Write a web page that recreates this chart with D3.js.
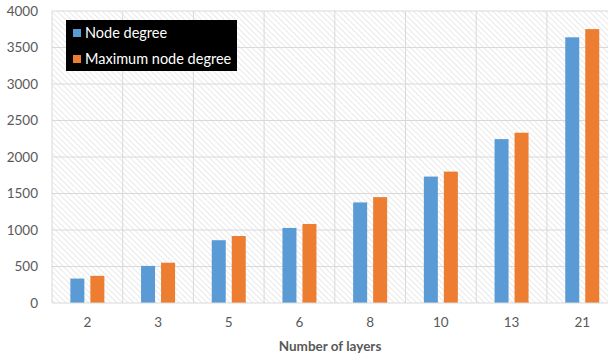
<!DOCTYPE html>
<html>
<head>
<meta charset="utf-8">
<script src="https://cdn.jsdelivr.net/npm/d3@7"></script>
<style>
html,body{margin:0;padding:0;background:#fff;}
svg{display:block;font-family:Lato,"Open Sans",sans-serif;}
</style>
</head>
<body>
<svg id="chart" width="608" height="360"></svg>
<script>
const categories = ["2","3","5","6","8","10","13","21"];
const seriesNames = ["Node degree","Maximum node degree"];
const nodeDegree = [335, 508, 860, 1028, 1378, 1732, 2245, 3640];
const maxNodeDegree = [372, 552, 918, 1082, 1450, 1800, 2333, 3752];
const yTicks = [0,500,1000,1500,2000,2500,3000,3500,4000];
const colors = ["#5B9BD5","#ED7D31"];

const svg = d3.select("#chart");
const plotLeft = 52, plotRight = 617.6, plotTop = 11, plotBottom = 303;

const x = d3.scaleBand().domain(categories).range([plotLeft, plotRight]).paddingInner(0).paddingOuter(0);
const xs = d3.scaleBand().domain(seriesNames).range([0, x.bandwidth()]).paddingInner(0.3).paddingOuter(0.9175);
const y = d3.scaleLinear().domain([0,4000]).range([plotBottom, plotTop]);

// hatch pattern
const defs = svg.append("defs");
const pat = defs.append("pattern").attr("id","hatch").attr("patternUnits","userSpaceOnUse")
  .attr("width",4).attr("height",4).attr("patternTransform","rotate(-45)");
pat.append("rect").attr("width",4).attr("height",4).attr("fill","#ffffff");
pat.append("line").attr("x1",0).attr("y1",0).attr("x2",0).attr("y2",4)
  .attr("stroke","#e4e4e4").attr("stroke-width",1.6);

svg.append("rect").attr("x",plotLeft).attr("y",plotTop).attr("width",plotRight-plotLeft).attr("height",plotBottom-plotTop)
  .attr("fill","url(#hatch)");

// horizontal grid
svg.append("g").selectAll("line").data(yTicks.filter(d=>d>0)).join("line")
  .attr("x1",plotLeft).attr("x2",plotRight).attr("y1",d=>y(d)).attr("y2",d=>y(d))
  .attr("stroke","#d9d9d9").attr("stroke-width",1);
// vertical grid
const bounds = categories.map(c=>x(c)).concat([plotRight]);
svg.append("g").selectAll("line").data(bounds).join("line")
  .attr("x1",d=>d).attr("x2",d=>d).attr("y1",plotTop).attr("y2",plotBottom)
  .attr("stroke","#d9d9d9").attr("stroke-width",1);

// y axis labels
const yAxis = d3.axisLeft(y).tickValues(yTicks).tickSize(0).tickPadding(0).tickFormat(d3.format("d"));
const gy = svg.append("g").attr("transform",`translate(38,0)`).call(yAxis);
gy.select(".domain").remove();
gy.selectAll("text").attr("fill","#595959").style("font-size","13.5px").style("font-family","Lato,'Open Sans',sans-serif");

// bars
const data = categories.map((c,i)=>({cat:c, vals:[nodeDegree[i], maxNodeDegree[i]]}));
const groups = svg.append("g").selectAll("g").data(data).join("g")
  .attr("transform",d=>`translate(${x(d.cat)},0)`);
groups.selectAll("rect").data(d=>d.vals.map((v,j)=>({name:seriesNames[j], v, j}))).join("rect")
  .attr("x",d=>xs(d.name)).attr("width",xs.bandwidth())
  .attr("y",d=>y(d.v)).attr("height",d=>y(0)-y(d.v))
  .attr("fill",d=>colors[d.j]);

// x axis
const xAxis = d3.axisBottom(x).tickSize(0).tickPadding(0);
const gx = svg.append("g").attr("transform",`translate(0,${plotBottom})`).call(xAxis);
gx.select(".domain").remove();
gx.selectAll("text").attr("fill","#595959").attr("dy","0").attr("y",24)
  .style("font-size","13.5px").style("font-family","Lato,'Open Sans',sans-serif");
svg.append("line").attr("x1",plotLeft).attr("x2",plotRight).attr("y1",plotBottom).attr("y2",plotBottom)
  .attr("stroke","#d9d9d9").attr("stroke-width",1);

// x title
svg.append("text").attr("x",330).attr("y",351).attr("text-anchor","middle")
  .attr("fill","#595959").style("font-size","13.5px").style("font-weight","bold")
  .text("Number of layers");

// legend
const lg = svg.append("g");
lg.append("rect").attr("x",66).attr("y",20).attr("width",171).attr("height",51).attr("fill","#000");
seriesNames.forEach((n,i)=>{
  const cy = 33 + i*26;
  lg.append("rect").attr("x",73).attr("y",cy-4).attr("width",8).attr("height",8).attr("fill",colors[i]);
  lg.append("text").attr("x",85).attr("y",cy+5).attr("fill","#fff").style("font-size","14.5px").text(n);
});
</script>
</body>
</html>
